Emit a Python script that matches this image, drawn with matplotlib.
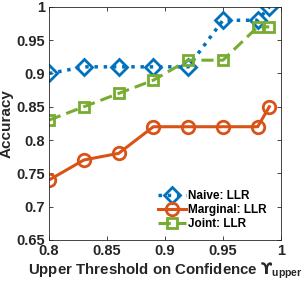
import matplotlib
matplotlib.use("Agg")
import matplotlib.pyplot as plt

x = [0.80, 0.83, 0.86, 0.89, 0.92, 0.95, 0.98, 0.99]
naive = [0.90, 0.91, 0.91, 0.91, 0.91, 0.98, 0.98, 1.00]
marginal = [0.74, 0.77, 0.78, 0.82, 0.82, 0.82, 0.82, 0.85]
joint = [0.83, 0.85, 0.87, 0.89, 0.92, 0.92, 0.97, 0.97]
labels = ["Naive: LLR", "Marginal: LLR", "Joint: LLR"]
xticks = [0.8, 0.85, 0.9, 0.95, 1.0]
xticklabels = ["0.8", "0.85", "0.9", "0.95", "1"]
yticks = [0.65, 0.7, 0.75, 0.8, 0.85, 0.9, 0.95, 1.0]
yticklabels = ["0.65", "0.7", "0.75", "0.8", "0.85", "0.9", "0.95", "1"]

plt.rcParams['font.family'] = ['Liberation Sans', 'DejaVu Sans']
plt.rcParams['font.weight'] = 'bold'
plt.rcParams['mathtext.fontset'] = 'custom'
plt.rcParams['mathtext.bf'] = 'Liberation Sans:bold'
plt.rcParams['mathtext.rm'] = 'Liberation Sans:bold'
plt.rcParams['mathtext.it'] = 'DejaVu Sans:bold'

fig = plt.figure(figsize=(3.03, 2.89), dpi=100)
ax = fig.add_axes([0.162, 0.170, 0.765, 0.806])

ax.plot(x, naive, color='#0072BD', linestyle=':', linewidth=2.5, marker='D',
        markersize=8.5, markerfacecolor='none', markeredgewidth=2.0, label=labels[0])
ax.plot(x, marginal, color='#D95319', linestyle='-', linewidth=2.2, marker='o',
        markersize=9, markerfacecolor='none', markeredgewidth=2.0, label=labels[1])
ax.plot(x, joint, color='#77AC30', linestyle=(0, (4, 2)), linewidth=2.2, marker='s',
        markersize=7.5, markerfacecolor='none', markeredgewidth=2.0, label=labels[2])

ax.set_xlim(0.8, 1.0)
ax.set_ylim(0.65, 1.0)
ax.set_xticks(xticks)
ax.set_xticklabels(xticklabels, fontsize=10.5, fontweight='bold')
ax.set_yticks(yticks)
ax.set_yticklabels(yticklabels, fontsize=10.5, fontweight='bold')
ax.tick_params(direction='in', top=True, right=True, length=3, width=0.6, colors='#262626', pad=3)
for s in ax.spines.values():
    s.set_color('#262626')
    s.set_linewidth(0.6)

ax.set_xlabel("Upper Threshold on Confidence $\\mathit{\u03d2}_{\\mathbf{upper}}$",
              fontsize=10.8, fontweight='bold', color='#262626', labelpad=2)
ax.set_ylabel("Accuracy", fontsize=11, fontweight='bold', color='#262626', labelpad=2)

leg = ax.legend(loc='lower right', frameon=False, fontsize=8.5, handlelength=2.4,
                handletextpad=0.15, labelspacing=0.2, borderaxespad=0.0,
                bbox_to_anchor=(0.96, 0.02))
for t in leg.get_texts():
    t.set_fontweight('bold')

fig.savefig("out.png", dpi=100)
